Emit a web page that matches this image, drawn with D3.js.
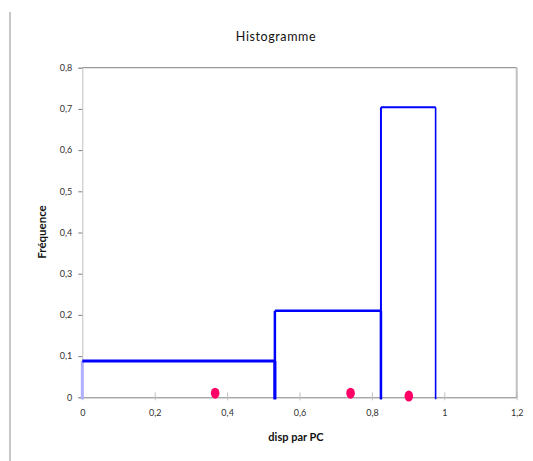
<!DOCTYPE html>
<html><head><meta charset="utf-8">
<script src="https://cdn.jsdelivr.net/npm/d3@7"></script>
<style>body{margin:0;background:#fff;}svg{display:block;font-family:Lato, "Open Sans", sans-serif;}</style>
</head><body>
<svg id="c" width="533" height="461"></svg>
<script>
const binStarts = [0, 0.532, 0.825];
const binEnds = [0.532, 0.825, 0.976];
const binFreq = [0.088, 0.21, 0.704];
const binStroke = [3, 2.5, 2];
const pointX = [0.367, 0.741, 0.902];
const pointY = [0.01, 0.01, 0.003];
const xTicks = [0, 0.2, 0.4, 0.6, 0.8, 1, 1.2];
const yTicks = [0, 0.1, 0.2, 0.3, 0.4, 0.5, 0.6, 0.7, 0.8];
const fmt = v => String(v).replace('.', ',');

const svg = d3.select('#c');
const x = d3.scaleLinear().domain([0, 1.2]).range([82.3, 516.7]);
const y = d3.scaleLinear().domain([0, 0.8]).range([397.3, 67.7]);

// outer left border
svg.append('line').attr('x1',10).attr('x2',10).attr('y1',12).attr('y2',461)
  .attr('stroke','#c8c8c8').attr('stroke-width',2);

// plot frame: top and right
svg.append('line').attr('x1',x(0)).attr('x2',x(1.2)).attr('y1',y(0.8)).attr('y2',y(0.8))
  .attr('stroke','#808080').attr('stroke-width',1);
svg.append('line').attr('x1',x(1.2)).attr('x2',x(1.2)).attr('y1',y(0.8)).attr('y2',y(0))
  .attr('stroke','#c0c0c0').attr('stroke-width',2);

// y axis
const yAxis = svg.append('g').attr('transform',`translate(${x(0)},0)`)
  .call(d3.axisLeft(y).tickValues(yTicks).tickFormat(fmt).tickSize(4).tickPadding(6));
yAxis.select('.domain').attr('stroke','#c0c0c0');
yAxis.selectAll('.tick line').attr('stroke','#808080');
yAxis.selectAll('text').attr('font-size',9).attr('fill','#333').attr('font-family','Lato, sans-serif');

// x axis
const xAxis = svg.append('g').attr('transform',`translate(0,${y(0)})`)
  .call(d3.axisBottom(x).tickValues(xTicks).tickFormat(fmt).tickSizeInner(-4).tickSizeOuter(0).tickPadding(12));
xAxis.select('.domain').attr('stroke','#808080');
xAxis.selectAll('.tick line').attr('stroke','#c0c0c0').attr('y1',3).attr('y2',-5);
xAxis.selectAll('text').attr('font-size',9).attr('fill','#333').attr('font-family','Lato, sans-serif');

// bars (open outlines, no bottom)
binStarts.forEach((s,i)=>{
  const x0 = x(s), x1 = x(binEnds[i]), yt = y(binFreq[i]), yb = y(0)+2;
  const w = binStroke[i];
  svg.append('line').attr('x1',x0).attr('x2',x0).attr('y1',yt).attr('y2',yb)
    .attr('stroke', i===0 ? '#b0b0ff' : '#0000ff').attr('stroke-width', w);
  svg.append('line').attr('x1',x0).attr('x2',x1).attr('y1',yt).attr('y2',yt)
    .attr('stroke','#0000ff').attr('stroke-width', w);
  svg.append('line').attr('x1',x1).attr('x2',x1).attr('y1',yt).attr('y2',yb)
    .attr('stroke','#0000ff').attr('stroke-width', i===2 ? 1.6 : w);
});

// points
svg.selectAll('ellipse.pt').data(pointX).enter().append('ellipse')
  .attr('class','pt')
  .attr('cx',(d)=>x(d)).attr('cy',(d,i)=>y(pointY[i]))
  .attr('rx',4.3).attr('ry',5.5).attr('fill','#ff0066');

// title
svg.append('text').attr('x',276).attr('y',41).attr('text-anchor','middle')
  .attr('font-size',12.5).attr('letter-spacing',0.6).attr('fill','#111').text('Histogramme');
// x label
svg.append('text').attr('x',296).attr('y',441).attr('text-anchor','middle')
  .attr('font-size',11).attr('font-weight','bold').attr('fill','#111').text('disp par PC');
// y label
svg.append('text').attr('transform','translate(46,232) rotate(-90)').attr('text-anchor','middle')
  .attr('font-size',11.5).attr('font-weight','bold').attr('fill','#111').text('Fréquence');
</script>
</body></html>
